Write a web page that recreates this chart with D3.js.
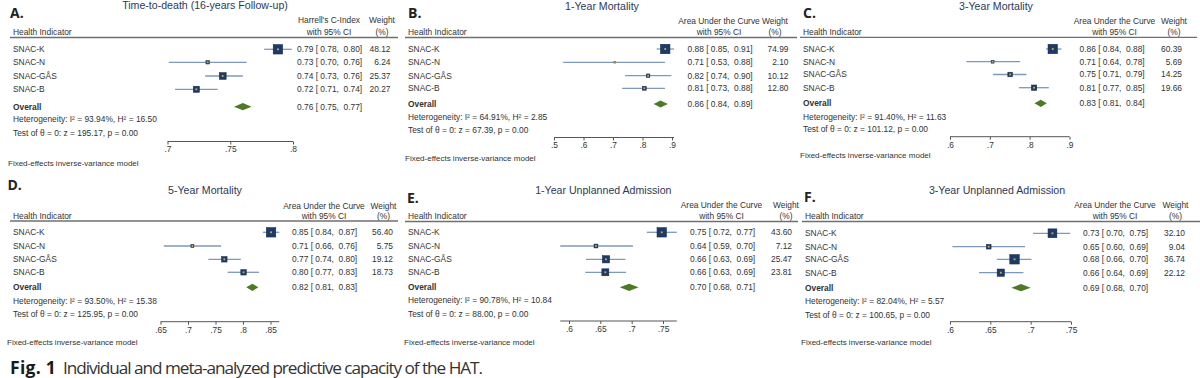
<!DOCTYPE html>
<html><head><meta charset="utf-8">
<script src="https://cdn.jsdelivr.net/npm/d3@7"></script>
<style>body{margin:0;background:#fff} svg{display:block}</style>
</head><body><svg id="c" width="1200" height="378"></svg>
<script>
// ---------------- DATA ----------------
const panelLetters = ["A.", "B.", "C.", "D.", "E.", "F."];
const panelTitles = ["Time-to-death (16-years Follow-up)", "1-Year Mortality", "3-Year Mortality",
  "5-Year Mortality", "1-Year Unplanned Admission", "3-Year Unplanned Admission"];
const metricHeaders = ["Harrell's C-Index", "Area Under the Curve", "Area Under the Curve",
  "Area Under the Curve", "Area Under the Curve", "Area Under the Curve"];
const indicators = ["SNAC-K", "SNAC-N", "SNAC-GÅS", "SNAC-B"];
// per panel (A..F), per indicator (K, N, GÅS, B)
const estimates = [
  [0.788, 0.732, 0.744, 0.723],
  [0.877, 0.706, 0.819, 0.806],
  [0.858, 0.707, 0.751, 0.811],
  [0.851, 0.708, 0.766, 0.801],
  [0.748, 0.643, 0.659, 0.658],
  [0.727, 0.648, 0.680, 0.663]];
const lowerCI = [
  [0.777, 0.701, 0.730, 0.706],
  [0.848, 0.531, 0.741, 0.731],
  [0.841, 0.641, 0.708, 0.773],
  [0.836, 0.656, 0.737, 0.772],
  [0.724, 0.586, 0.627, 0.626],
  [0.703, 0.603, 0.658, 0.636]];
const upperCI = [
  [0.799, 0.763, 0.760, 0.740],
  [0.907, 0.876, 0.898, 0.876],
  [0.880, 0.776, 0.792, 0.848],
  [0.866, 0.760, 0.796, 0.829],
  [0.772, 0.702, 0.690, 0.691],
  [0.749, 0.693, 0.701, 0.691]];
const weights = [
  [48.12, 6.24, 25.37, 20.27],
  [74.99, 2.10, 10.12, 12.80],
  [60.39, 5.69, 14.25, 19.66],
  [56.40, 5.75, 19.12, 18.73],
  [43.60, 7.12, 25.47, 23.81],
  [32.10, 9.04, 36.74, 22.12]];
const overallEst = [0.760, 0.861, 0.828, 0.817, 0.696, 0.688];
const overallLo  = [0.753, 0.838, 0.812, 0.806, 0.681, 0.676];
const overallHi  = [0.767, 0.886, 0.843, 0.828, 0.711, 0.700];
const hetI2 = [93.94, 64.91, 91.40, 93.50, 90.78, 82.04];
const hetH2 = [16.50, 2.85, 11.63, 15.38, 10.84, 5.57];
const testZ = [195.17, 67.39, 101.12, 125.95, 88.00, 100.65];
const testP = [0.00, 0.00, 0.00, 0.00, 0.00, 0.00];
const axisTicks = [
  [0.7, 0.75, 0.8],
  [0.5, 0.6, 0.7, 0.8, 0.9],
  [0.6, 0.7, 0.8, 0.9],
  [0.65, 0.7, 0.75, 0.8, 0.85],
  [0.6, 0.65, 0.7, 0.75],
  [0.6, 0.65, 0.7, 0.75]];
const modelNote = "Fixed-effects inverse-variance model";
const captionBold = "Fig. 1";
const captionText = "Individual and meta-analyzed predictive capacity of the HAT.";

// ---------------- LAYOUT ----------------
const layouts = [
  {range:[167.5,293], titleX:205, titleY:5.5, letterX:10, letterY:13.5, h1:20, h2:32, lineY:37.5, lineX:[10,398],
   rows:[49.3,62.3,76,89.3], overallY:106.7, hetY:119.3, testY:133, axisY:141.5, fixedX:8, fixedY:163,
   labelX:13, valueX:297, weightR:390.5, metricX:329, weightX:382},
  {range:[554,672], titleX:602, titleY:6, letterX:408, letterY:13.5, h1:20.7, h2:32.3, lineY:37.5, lineX:[405,797],
   rows:[49,62.3,75.7,88.3], overallY:104, hetY:117.3, testY:130, axisY:137.5, fixedX:405, fixedY:158.3,
   labelX:408, valueX:687.5, weightR:788.5, metricX:719, weightX:775},
  {range:[950,1069.5], titleX:996, titleY:6, letterX:803, letterY:13.5, h1:20.7, h2:31.7, lineY:37.3, lineX:[800,1197],
   rows:[49,61.7,74.5,87.7], overallY:103.3, hetY:116.7, testY:129.3, axisY:136.7, fixedX:800, fixedY:155,
   labelX:803, valueX:1079.5, weightR:1182, metricX:1114.5, weightX:1174},
  {range:[160.5,270.5], titleX:205, titleY:190.7, letterX:7.5, letterY:185, h1:205.7, h2:215.7, lineY:221, lineX:[10,398],
   rows:[232.3,246,259.3,272.3], overallY:287.3, hetY:300.7, testY:314, axisY:321.7, fixedX:7, fixedY:342.5,
   labelX:13, valueX:292, weightR:393, metricX:324, weightX:383.5},
  {range:[569,663], titleX:603.3, titleY:190, letterX:407, letterY:198.3, h1:205, h2:215.7, lineY:221.5, lineX:[405,798],
   rows:[232.3,246,259.3,272.3], overallY:287.3, hetY:300, testY:314, axisY:321, fixedX:404, fixedY:342.5,
   labelX:408, valueX:690, weightR:792, metricX:721.5, weightX:786},
  {range:[950,1071], titleX:997, titleY:190, letterX:804, letterY:197, h1:205, h2:215.7, lineY:221.5, lineX:[802,1200],
   rows:[233.3,246.7,259.3,272.7], overallY:287.7, hetY:301, testY:315, axisY:321.7, fixedX:801, fixedY:342.5,
   labelX:805, valueX:1083, weightR:1185, metricX:1115, weightX:1175.5}
];

const svg = d3.select("#c");
const SANS = "'Liberation Sans', Arial, Helvetica, sans-serif";
const FS = 8.4;
const TXT = "#333";
const f2 = d => d.toFixed(2);

function txt(g, x, y, s, opts = {}) {
  return g.append("text").attr("x", x).attr("y", y).attr("dy", opts.dy || "0.35em")
    .attr("text-anchor", opts.anchor || "start")
    .style("font-family", opts.family || SANS).style("font-size", (opts.size || FS) + "px")
    .style("font-weight", opts.weight || "normal").style("fill", opts.color || TXT)
    .style("white-space", "pre").text(s);
}

layouts.forEach((L, i) => {
  const g = svg.append("g");
  const t = axisTicks[i];
  const x = d3.scaleLinear().domain([t[0], t[t.length - 1]]).range(L.range);
  const maxW = d3.max(weights[i]);

  txt(g, L.letterX, L.letterY, panelLetters[i], {family: "'Open Sans', sans-serif", size: 14, weight: "bold", color: "#222"});
  txt(g, L.titleX, L.titleY, panelTitles[i], {anchor: "middle", size: 10.6, color: "#2b3a57"});
  txt(g, L.metricX, L.h1, metricHeaders[i], {anchor: "middle"});
  txt(g, L.metricX, L.h2, "with 95% CI", {anchor: "middle"});
  txt(g, L.weightX, L.h1, "Weight", {anchor: "middle"});
  txt(g, L.weightX, L.h2, "(%)", {anchor: "middle"});
  txt(g, L.labelX, L.h2, "Health Indicator");
  g.append("line").attr("x1", L.lineX[0]).attr("x2", L.lineX[1]).attr("y1", L.lineY).attr("y2", L.lineY)
    .attr("stroke", "#6f6f6f").attr("stroke-width", 1.3);

  indicators.forEach((name, j) => {
    const y = L.rows[j];
    txt(g, L.labelX, y, name);
    g.append("line").attr("x1", x(lowerCI[i][j])).attr("x2", x(upperCI[i][j])).attr("y1", y).attr("y2", y)
      .attr("stroke", "#7f99bd").attr("stroke-width", 1.3);
    const s = Math.max(1.5, 9.5 * Math.sqrt(weights[i][j] / maxW));
    g.append("rect").attr("x", x(estimates[i][j]) - s / 2).attr("y", y - s / 2).attr("width", s).attr("height", s)
      .attr("fill", "#1d3b69").attr("stroke", "#14284a").attr("stroke-width", 0.5);
    g.append("rect").attr("x", x(estimates[i][j]) - 0.9).attr("y", y - 0.9).attr("width", 1.8).attr("height", 1.8)
      .attr("fill", "#d6ac3e");
    txt(g, L.valueX, y, `${f2(estimates[i][j])} [ ${f2(lowerCI[i][j])},  ${f2(upperCI[i][j])}]`);
    txt(g, L.weightR, y, f2(weights[i][j]), {anchor: "end"});
  });

  // overall diamond
  const oy = L.overallY;
  txt(g, L.labelX, oy, "Overall", {weight: "bold"});
  const dPts = [[x(overallLo[i]), oy], [x(overallEst[i]), oy - 3.6], [x(overallHi[i]), oy], [x(overallEst[i]), oy + 3.6]];
  g.append("path").attr("d", d3.line()(dPts) + "Z").attr("fill", "#4e7a27");
  txt(g, L.valueX, oy, `${f2(overallEst[i])} [ ${f2(overallLo[i])},  ${f2(overallHi[i])}]`);

  txt(g, L.labelX, L.hetY, `Heterogeneity: I² = ${f2(hetI2[i])}%, H² = ${f2(hetH2[i])}`);
  txt(g, L.labelX, L.testY, `Test of θ = 0: z = ${f2(testZ[i])}, p = ${f2(testP[i])}`);

  // axis
  const allLo = d3.min([t[0], ...lowerCI[i], overallLo[i]]);
  const allHi = d3.max([t[t.length - 1], ...upperCI[i], overallHi[i]]);
  const ax = g.append("g").attr("transform", `translate(0,${L.axisY})`)
    .call(d3.axisBottom(x).tickValues(t).tickSize(3).tickPadding(2)
      .tickFormat(d => d3.format("")(d).replace(/^0/, "")));
  ax.select(".domain").remove();
  ax.selectAll(".tick line").attr("stroke", "#555");
  ax.selectAll(".tick text").style("font-family", SANS).style("font-size", FS + "px").style("fill", TXT);
  ax.append("line").attr("x1", x(allLo)).attr("x2", x(allHi)).attr("y1", 0).attr("y2", 0)
    .attr("stroke", "#555").attr("stroke-width", 1);

  txt(g, L.fixedX, L.fixedY, modelNote, {size: 8});
});

// caption: natural glyphs, slightly tightened letter spacing to match the reference width
const cap = svg.append("g");
function fitSpacing(sel, target) {
  const n = sel.text().length;
  const w = sel.node().getComputedTextLength();
  sel.style("letter-spacing", ((target - w) / n) + "px");
}
const cb = txt(cap, 10, 374, captionBold, {family: "'Open Sans', sans-serif", size: 17.5, weight: "bold", color: "#1a1a1a", dy: "0"});
fitSpacing(cb, 46);
const ct = txt(cap, 63, 374, captionText, {family: "'Open Sans', sans-serif", size: 17.2, color: "#333", dy: "0"});
fitSpacing(ct, 419);
</script></body></html>
